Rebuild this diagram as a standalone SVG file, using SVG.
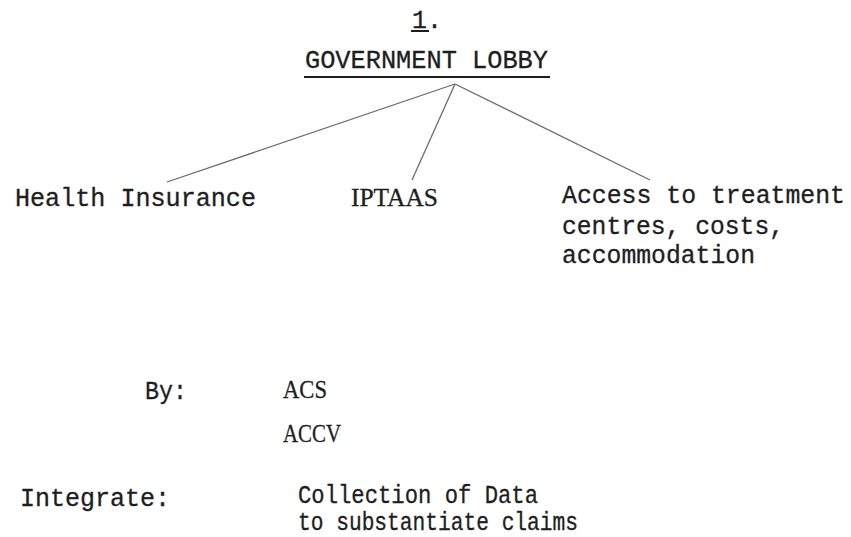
<svg xmlns="http://www.w3.org/2000/svg" width="851" height="537" viewBox="0 0 851 537">
<style>
text{font-family:"Liberation Mono","DejaVu Sans Mono",monospace;fill:#1e1e1e;font-size:25px;stroke:#1e1e1e;stroke-width:0.3}
.s{font-family:"Liberation Serif","DejaVu Serif",serif}
.c{stroke:#6a6a6a;stroke-width:1.3;fill:none}
.u{stroke:#1e1e1e;stroke-width:2}
</style>
<rect width="851" height="537" fill="#fff"/>
<g id="title">
<text x="412" y="28" font-size="26" textLength="30" lengthAdjust="spacingAndGlyphs">1.</text>
<line class="u" x1="411" y1="31" x2="429" y2="31"/>
</g>
<g id="gov">
<text x="305" y="68" font-size="23" textLength="243" lengthAdjust="spacingAndGlyphs">GOVERNMENT LOBBY</text>
<line class="u" x1="304" y1="77" x2="550" y2="77"/>
</g>
<g id="connectors">
<line class="c" x1="455" y1="84" x2="167" y2="182"/>
<line class="c" x1="455" y1="84" x2="412" y2="180"/>
<line class="c" x1="455" y1="84" x2="650" y2="180"/>
</g>
<g id="health"><text x="15" y="206" textLength="241" lengthAdjust="spacingAndGlyphs">Health Insurance</text></g>
<g id="iptaas"><text class="s" x="351" y="206" font-size="23" textLength="87" lengthAdjust="spacingAndGlyphs">IPTAAS</text></g>
<g id="access">
<text x="562" y="203" textLength="283" lengthAdjust="spacingAndGlyphs">Access to treatment</text>
<text x="562" y="234" textLength="222" lengthAdjust="spacingAndGlyphs">centres, costs,</text>
<text x="562" y="263" textLength="193" lengthAdjust="spacingAndGlyphs">accommodation</text>
</g>
<g id="by">
<text x="145" y="399" textLength="42" lengthAdjust="spacingAndGlyphs">By:</text>
<text class="s" x="283" y="398" font-size="22" textLength="44" lengthAdjust="spacingAndGlyphs">ACS</text>
<text class="s" x="283" y="442" font-size="22" textLength="58" lengthAdjust="spacingAndGlyphs">ACCV</text>
</g>
<g id="integrate">
<text x="20" y="506" textLength="150" lengthAdjust="spacingAndGlyphs">Integrate:</text>
<text x="298" y="503" font-size="20" textLength="240" lengthAdjust="spacingAndGlyphs">Collection of Data</text>
<text x="298" y="530" font-size="20" textLength="280" lengthAdjust="spacingAndGlyphs">to substantiate claims</text>
</g>
</svg>
